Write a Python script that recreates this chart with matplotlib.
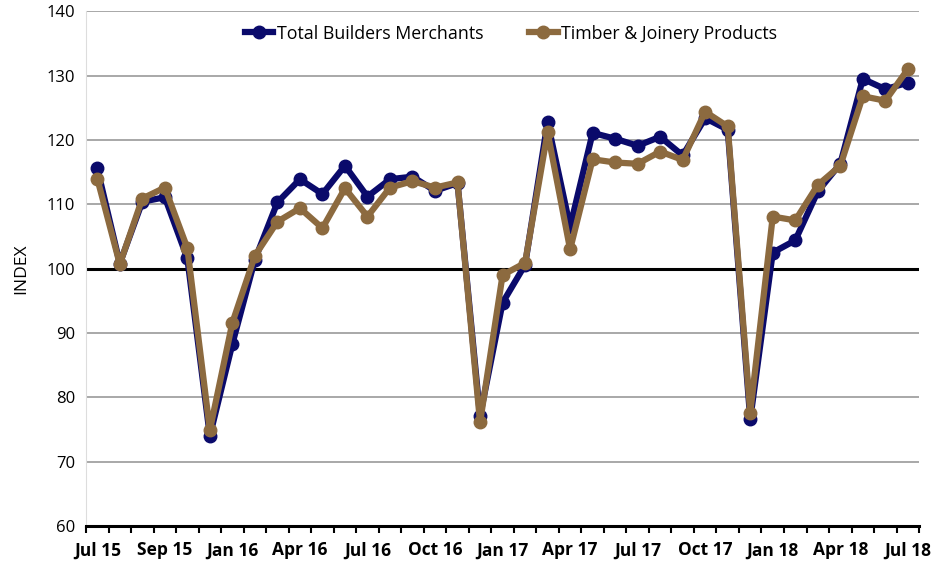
import matplotlib.pyplot as plt
import matplotlib

matplotlib.rcParams['font.family'] = ['Open Sans', 'DejaVu Sans']

# monthly categories Jul 15 .. Jul 18
months = ['Jul 15', 'Aug 15', 'Sep 15', 'Oct 15', 'Nov 15', 'Dec 15',
          'Jan 16', 'Feb 16', 'Mar 16', 'Apr 16', 'May 16', 'Jun 16',
          'Jul 16', 'Aug 16', 'Sep 16', 'Oct 16', 'Nov 16', 'Dec 16',
          'Jan 17', 'Feb 17', 'Mar 17', 'Apr 17', 'May 17', 'Jun 17',
          'Jul 17', 'Aug 17', 'Sep 17', 'Oct 17', 'Nov 17', 'Dec 17',
          'Jan 18', 'Feb 18', 'Mar 18', 'Apr 18', 'May 18', 'Jun 18',
          'Jul 18']

# labels shown on the axis (as printed in the original)
tick_pos = [0, 3, 6, 9, 12, 15, 18, 21, 24, 27, 30, 33, 36]
tick_labels = ['Jul 15', 'Sep 15', 'Jan 16', 'Apr 16', 'Jul 16', 'Oct 16',
               'Jan 17', 'Apr 17', 'Jul 17', 'Oct 17', 'Jan 18', 'Apr 18',
               'Jul 18']

total_bm = [115.6, 100.8, 110.4, 111.1, 101.6, 74.0, 88.3, 101.4, 110.3,
            113.9, 111.6, 116.0, 111.2, 113.9, 114.3, 112.1, 113.3, 77.1,
            94.7, 100.6, 122.8, 106.5, 121.1, 120.2, 119.1, 120.5, 117.6,
            123.4, 121.6, 76.6, 102.5, 104.4, 112.0, 116.3, 129.5, 127.9,
            128.9]

timber = [114.0, 100.7, 110.9, 112.6, 103.2, 74.9, 91.6, 102.0, 107.3,
          109.4, 106.3, 112.5, 108.1, 112.6, 113.6, 112.6, 113.4, 76.1,
          99.0, 100.9, 121.2, 103.0, 117.0, 116.5, 116.3, 118.2, 116.9,
          124.4, 122.1, 77.6, 108.1, 107.5, 113.0, 116.0, 126.8, 126.1,
          131.0]

navy = '#0a0a6b'
tan = '#8c6a3f'

fig = plt.figure(figsize=(9.35, 5.65), dpi=100)
ax = fig.add_axes([0.092, 0.069, 0.891, 0.911])

x = list(range(len(months)))
ax.plot(x, total_bm, color=navy, lw=4.5, marker='o', ms=9,
        label='Total Builders Merchants', zorder=3)
ax.plot(x, timber, color=tan, lw=4.5, marker='o', ms=9,
        label='Timber & Joinery Products', zorder=4)

# reference line at 100
ax.axhline(100, color='black', lw=2.2, zorder=2)

ax.set_xlim(-0.5, len(months) - 0.5)
ax.set_ylim(60, 140)
ax.set_yticks(range(60, 141, 10))
ax.yaxis.grid(True, color='#999999', lw=1.2)
ax.set_axisbelow(True)

# category ticks between months, labels on the months
ax.set_xticks([i - 0.5 for i in range(len(months) + 1)])
ax.set_xticklabels([])
ax.set_xticks(tick_pos, minor=True)
ax.set_xticklabels(tick_labels, minor=True, fontsize=12.5, fontweight='bold')
ax.tick_params(axis='x', which='major', length=5, width=1.5, direction='out')
ax.tick_params(axis='x', which='minor', length=0, pad=11)
ax.tick_params(axis='y', length=0, labelsize=12, pad=8)

for s in ['top', 'right']:
    ax.spines[s].set_visible(False)
ax.spines['left'].set_color('#dddddd')
ax.spines['bottom'].set_linewidth(2.2)

ax.set_ylabel('INDEX', fontsize=12.5, labelpad=12)

ax.legend(loc='upper center', ncol=2, frameon=False, fontsize=12.8,
          handlelength=1.6, handletextpad=0.2, columnspacing=2.6,
          bbox_to_anchor=(0.51, 1.0), borderaxespad=0.35)

plt.savefig('out.png', dpi=100)
